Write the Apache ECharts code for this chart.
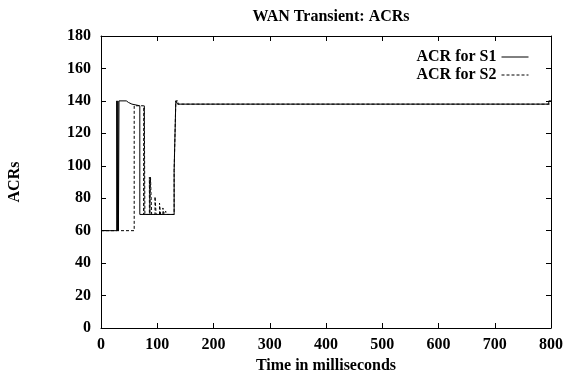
<!DOCTYPE html>
<html>
<head>
<meta charset="utf-8">
<script src="https://cdn.jsdelivr.net/npm/echarts@6/dist/echarts.min.js"></script>
<style>html,body{margin:0;padding:0;background:#fff}#c{width:564px;height:373px}</style>
</head>
<body>
<div id="c"></div>
<script>
var titleText = 'WAN Transient: ACRs';
var xName = 'Time in milliseconds';
var yName = 'ACRs';
var seriesNames = ['ACR for S1', 'ACR for S2'];

// S1 breakpoints: value holds from this time until the next time
var s1Times = [0, 28, 29, 30, 31, 32, 45, 49, 55, 69, 130, 133, 136, 148, 149, 160, 161, 172, 173, 185, 186, 200, 201, 215, 216, 228, 229, 240, 241, 255, 256, 270, 271, 290, 291, 310, 311, 330, 331, 355, 356, 375, 376, 395, 396, 420, 421, 445, 446, 470, 471, 490, 491, 505, 506, 530, 531, 560, 561, 585, 586, 610, 611, 640, 641, 660, 661, 690, 691, 720, 721, 750, 751, 775, 776, 796, 800];
var s1Values = [60, 140, 60, 140, 60, 140, 139, 138, 137, 70, 97, 140, 138, 139, 138, 139, 138, 137, 138, 139, 138, 139, 138, 139, 138, 137, 138, 139, 138, 139, 138, 139, 138, 137, 138, 139, 138, 139, 138, 139, 138, 137, 138, 139, 138, 139, 138, 139, 138, 137, 138, 139, 138, 139, 138, 139, 138, 139, 138, 137, 138, 139, 138, 139, 138, 139, 138, 137, 138, 139, 138, 139, 138, 139, 138, 140, 140];

// S2 breakpoints
var s2Times = [0, 59, 76, 77, 78, 86, 87, 88, 90, 96, 98, 104, 106, 110, 112, 115, 117, 130, 133, 137, 152, 153, 178, 179, 205, 206, 236, 237, 265, 266, 298, 299, 340, 341, 380, 381, 410, 411, 455, 456, 480, 481, 520, 521, 548, 549, 575, 576, 620, 621, 650, 651, 680, 681, 710, 711, 740, 741, 765, 766, 790, 800];
var s2Values = [60, 137, 70, 137, 70, 93, 70, 93, 70, 81, 70, 77, 70, 74, 70, 72, 70, 97, 140, 138, 137, 138, 139, 138, 137, 138, 139, 138, 137, 138, 139, 138, 137, 138, 139, 138, 137, 138, 139, 138, 137, 138, 139, 138, 137, 138, 139, 138, 137, 138, 139, 138, 137, 138, 139, 138, 137, 138, 139, 138, 138, 138];

function pairs(t, v) {
  var out = [];
  for (var i = 0; i < t.length; i++) out.push([t[i], v[i]]);
  return out;
}

var font = 'Liberation Serif';
var chart = echarts.init(document.getElementById('c'));
var axisLine = {show: true, onZero: false, lineStyle: {color: '#000', width: 1}};
var tick = {show: true, inside: true, length: 5, lineStyle: {color: '#000'}};
chart.setOption({
  animation: false,
  backgroundColor: '#fff',
  title: {
    text: titleText, left: 326, top: 4, textAlign: 'center',
    textStyle: {fontFamily: font, fontWeight: 'bold', fontSize: 16, color: '#000'}
  },
  legend: {
    data: [
      {name: seriesNames[0], lineStyle: {width: 1, color: '#000', type: 'solid'}},
      {name: seriesNames[1], lineStyle: {width: 1, color: '#000', type: [3, 2]}}
    ],
    orient: 'vertical', align: 'right', right: 30, top: 44,
    itemWidth: 27, itemHeight: 14, itemGap: 2,
    itemStyle: {opacity: 0},
    textStyle: {fontFamily: font, fontWeight: 'bold', fontSize: 16, color: '#000'}
  },
  grid: {left: 101, right: 13, top: 36, bottom: 45, outerBoundsMode: 'none'},
  xAxis: [{
    type: 'value', min: 0, max: 800, interval: 100,
    name: xName, nameLocation: 'middle', nameGap: 24,
    nameTextStyle: {fontFamily: font, fontWeight: 'bold', fontSize: 16, color: '#000'},
    axisLine: axisLine, axisTick: tick, splitLine: {show: false},
    axisLabel: {fontFamily: font, fontWeight: 'bold', fontSize: 16, color: '#000', margin: 9}
  }, {
    type: 'value', position: 'top', min: 0, max: 800, interval: 100,
    axisLine: axisLine, axisTick: tick, splitLine: {show: false}, axisLabel: {show: false}
  }],
  yAxis: [{
    type: 'value', min: 0, max: 180, interval: 20,
    name: yName, nameLocation: 'middle', nameGap: 78, nameRotate: 90,
    nameTextStyle: {fontFamily: font, fontWeight: 'bold', fontSize: 16, color: '#000'},
    axisLine: axisLine, axisTick: tick, splitLine: {show: false},
    axisLabel: {fontFamily: font, fontWeight: 'bold', fontSize: 16, color: '#000', margin: 10}
  }, {
    type: 'value', position: 'right', min: 0, max: 180, interval: 20,
    axisLine: axisLine, axisTick: tick, splitLine: {show: false}, axisLabel: {show: false}
  }],
  series: [{
    name: seriesNames[0], type: 'line', step: 'end', symbol: 'none',
    data: pairs(s1Times, s1Values), z: 3,
    lineStyle: {color: '#000', width: 1, type: 'solid'},
    itemStyle: {color: '#000'}
  }, {
    name: seriesNames[1], type: 'line', step: 'end', symbol: 'none',
    data: pairs(s2Times, s2Values), z: 2,
    lineStyle: {color: '#000', width: 1, type: [3, 2]},
    itemStyle: {color: '#000'}
  }]
});
</script>
</body>
</html>
